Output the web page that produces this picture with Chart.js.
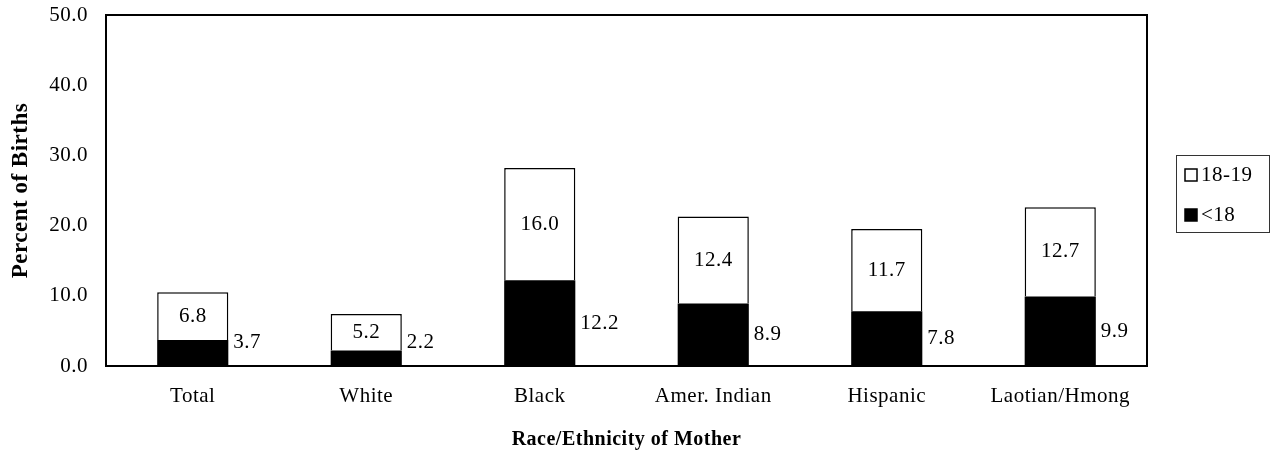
<!DOCTYPE html>
<html>
<head>
<meta charset="utf-8">
<script src="https://cdn.jsdelivr.net/npm/chart.js@4.4.1/dist/chart.umd.min.js"></script>
<style>
  html, body { margin: 0; padding: 0; background: #fff; }
  #wrap { width: 1274px; height: 455px; position: relative; }
</style>
</head>
<body>
<div id="wrap"><canvas id="chart"></canvas></div>
<script>
  // Datos
  const categories = ['Total', 'White', 'Black', 'Amer. Indian', 'Hispanic', 'Laotian/Hmong'];
  const under18 = [3.7, 2.2, 12.2, 8.9, 7.8, 9.9];
  const age18to19 = [6.8, 5.2, 16.0, 12.4, 11.7, 12.7];
  const yTicks = [0, 10, 20, 30, 40, 50];

  const SERIF = '"Liberation Serif", "Times New Roman", serif';
  Chart.defaults.font.family = SERIF;
  Chart.defaults.font.size = 21;
  Chart.defaults.color = '#000';

  // El original tiene el texto algo espaciado
  const spacing = {
    id: 'spacing',
    beforeDraw(chart) { chart.ctx.letterSpacing = '0.5px'; },
  };

  // Etiquetas de valor: <18 a la derecha de la barra, 18-19 centrada en el segmento
  const valueLabels = {
    id: 'valueLabels',
    afterDatasetsDraw(chart) {
      const ctx = chart.ctx;
      ctx.save();
      ctx.font = '21px ' + SERIF;
      ctx.fillStyle = '#000';
      ctx.textBaseline = 'middle';
      chart.data.datasets.forEach((ds, di) => {
        const meta = chart.getDatasetMeta(di);
        meta.data.forEach((bar, i) => {
          const txt = ds.data[i].toFixed(1);
          const mid = (bar.y + bar.base) / 2;
          if (di === 0) {
            ctx.textAlign = 'left';
            ctx.fillText(txt, bar.x + bar.width / 2 + 5, Math.min(mid, bar.base - 24));
          } else {
            ctx.textAlign = 'center';
            ctx.fillText(txt, bar.x, mid);
          }
        });
      });
      ctx.restore();
    },
  };

  // Marco del área de trazado + leyenda con recuadro
  const frameAndLegend = {
    id: 'frameAndLegend',
    afterDraw(chart) {
      const { ctx, chartArea: a } = chart;
      ctx.save();
      ctx.strokeStyle = '#000';
      ctx.lineWidth = 2;
      ctx.strokeRect(a.left, a.top, a.right - a.left, a.bottom - a.top);

      const lx = a.right + 29, ly = 155, lw = 93, lh = 77;
      ctx.lineWidth = 1;
      ctx.strokeStyle = '#333';
      ctx.strokeRect(lx + 0.5, ly + 0.5, lw, lh);

      const items = [
        { text: '18-19', fill: '#fff' },
        { text: '<18', fill: '#000' },
      ];
      ctx.font = '21px ' + SERIF;
      ctx.textAlign = 'left';
      ctx.textBaseline = 'middle';
      items.forEach((it, k) => {
        const cy = ly + 20 + k * 40;
        ctx.fillStyle = it.fill;
        ctx.fillRect(lx + 9, cy - 6, 12, 12);
        ctx.strokeStyle = '#000';
        ctx.lineWidth = 1.5;
        ctx.strokeRect(lx + 9, cy - 6, 12, 12);
        ctx.fillStyle = '#000';
        ctx.fillText(it.text, lx + 25, cy);
      });
      ctx.restore();
    },
  };

  new Chart(document.getElementById('chart'), {
    type: 'bar',
    data: {
      labels: categories,
      datasets: [
        {
          label: '<18',
          data: under18,
          backgroundColor: '#000',
          borderColor: '#000',
          borderWidth: 0,
          barPercentage: 0.41,
          categoryPercentage: 1,
        },
        {
          label: '18-19',
          data: age18to19,
          backgroundColor: '#fff',
          borderColor: '#000',
          borderWidth: 1.5,
          borderSkipped: 'bottom',
          barPercentage: 0.41,
          categoryPercentage: 1,
        },
      ],
    },
    options: {
      responsive: true,
      maintainAspectRatio: false,
      animation: false,
      layout: { padding: { top: 0, right: 127, bottom: 0, left: 0 } },
      plugins: {
        legend: { display: false },
        tooltip: { enabled: false },
      },
      scales: {
        x: {
          stacked: true,
          grid: { display: false, drawTicks: false },
          border: { display: false },
          ticks: { padding: 18, font: { size: 21 } },
          title: {
            display: true,
            text: 'Race/Ethnicity of Mother',
            font: { size: 20, weight: 'bold' },
            padding: { top: 4, bottom: 3 },
          },
          afterFit: (s) => { s.height = 89; },
        },
        y: {
          stacked: true,
          min: 0,
          max: 50,
          afterBuildTicks: (s) => { s.ticks = yTicks.map((v) => ({ value: v })); },
          grid: { display: false, drawTicks: false },
          border: { display: false },
          ticks: { padding: 18, font: { size: 21 }, callback: (v) => Number(v).toFixed(1) },
          title: {
            display: true,
            text: 'Percent of Births',
            font: { size: 23, weight: 'bold' },
            padding: { top: 7, bottom: 4 },
          },
          afterFit: (s) => {
            s.width = 106;
            s.paddingTop = 15;
            s.paddingBottom = 12;
          },
        },
      },
    },
    plugins: [spacing, valueLabels, frameAndLegend],
  });
</script>
</body>
</html>
